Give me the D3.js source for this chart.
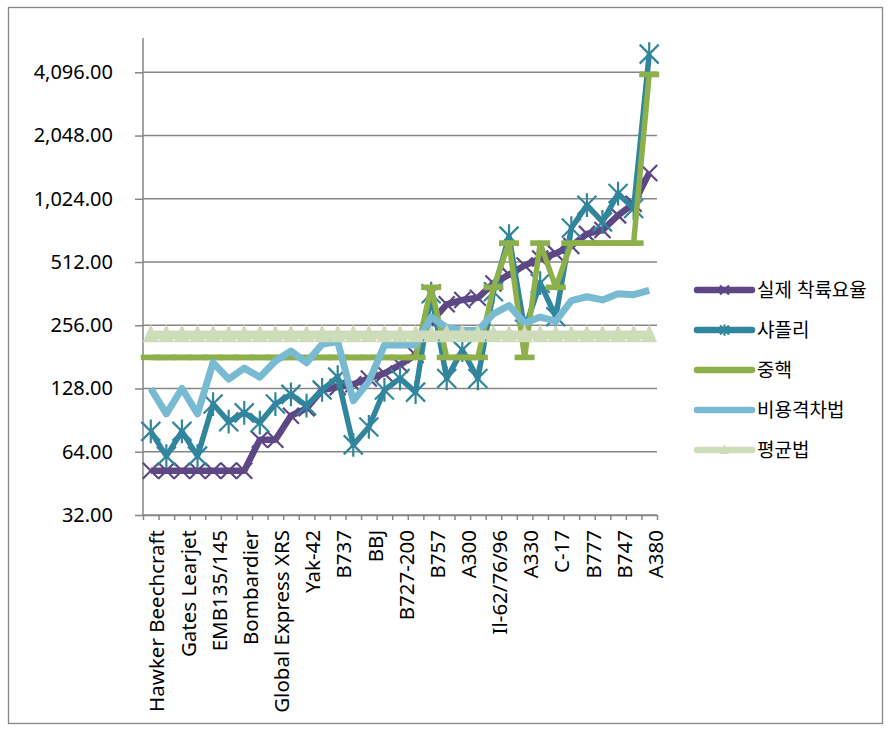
<!DOCTYPE html>
<html lang="ko">
<head>
  <meta charset="UTF-8">
  <title>착륙요율 비교</title>
  <style>
    html, body { margin: 0; background: #fff; overflow: hidden; }
    text { font-family: "Noto Sans", "Noto Sans CJK KR", sans-serif; fill: #000; }
  </style>
</head>
<body>
  <div id="chart"></div>
  <script src="https://cdn.jsdelivr.net/npm/d3@7"></script>
  <script>
    // 33 categories, only every other one is labelled on the axis
    const labels = ['Hawker Beechcraft', 'Gates Learjet', 'EMB135/145', 'Bombardier',
      'Global Express XRS', 'Yak-42', 'B737', 'BBJ', 'B727-200', 'B757', 'A300',
      'Il-62/76/96', 'A330', 'C-17', 'B777', 'B747', 'A380']
    const categories = d3.range(33).map(i => i % 2 === 0 ? labels[i / 2] : '')

    const actual = [52, 52, 52, 52, 52, 52, 52, 73, 73, 95, 103, 126, 130, 134, 143, 151, 166,
      185, 266, 322, 338, 346, 405, 446, 493, 532, 563, 610, 697, 727, 854, 970, 1357]
    const shapley = [80, 61, 80, 61, 108, 89, 98, 88, 108, 120, 106, 126, 145, 69, 84, 126, 143,
      123, 362, 143, 195, 143, 370, 680, 245, 406, 281, 743, 954, 795, 1084, 921, 5000]
    const nucleolus = [180, 180, 180, 180, 180, 180, 180, 180, 180, 180, 180, 180, 180, 180, 180,
      180, 180, 180, 388, 180, 180, 180, 388, 630, 180, 630, 388, 630, 630, 630, 630, 630, 4000]
    const costGap = [128, 97, 128, 97, 170, 142, 160, 145, 173, 193, 170, 208, 214, 112, 138, 206,
      206, 206, 280, 250, 242, 242, 290, 318, 262, 280, 268, 335, 350, 338, 362, 358, 375]
    const average = d3.range(33).map(() => 230)

    const yTicks = [32, 64, 128, 256, 512, 1024, 2048, 4096]

    const series = [
      { name: '실제 착륙요율', values: actual, color: '#5d4885', width: 6.5, marker: 'x' },
      { name: '샤플리', values: shapley, color: '#31859c', width: 5.5, marker: 'star' },
      { name: '중핵', values: nucleolus, color: '#8db04b', width: 5.5, marker: 'dash' },
      { name: '비용격차법', values: costGap, color: '#77bad2', width: 7, marker: 'none' },
      { name: '평균법', values: average, color: '#cfdcba', width: 9, marker: 'triangle' }
    ]

    const W = 891, H = 731
    const plot = { left: 143, right: 657, top: 38, bottom: 515 }

    const svg = d3.select('#chart').append('svg')
      .attr('width', W).attr('height', H)

    svg.append('rect')
      .attr('x', 8.5).attr('y', 7.5)
      .attr('width', 874).attr('height', 716)
      .attr('fill', '#fff').attr('stroke', '#868686').attr('stroke-width', 1.3)

    const x = d3.scaleLinear().domain([0, categories.length]).range([plot.left, plot.right])
    const y = d3.scaleLog().base(2).domain([32, 4096]).range([plot.bottom, 72.3])
    const cx = i => x(i + 0.5)

    // gridlines
    svg.append('g').selectAll('line')
      .data(yTicks)
      .join('line')
      .attr('x1', plot.left).attr('x2', plot.right)
      .attr('y1', d => y(d)).attr('y2', d => y(d))
      .attr('stroke', '#868686').attr('stroke-width', 1.5)

    // y axis
    const yAxis = svg.append('g')
      .attr('transform', `translate(${plot.left},0)`)
      .call(d3.axisLeft(y).tickValues(yTicks).tickFormat(d3.format(',.2f')).tickSize(8).tickPadding(22))
    yAxis.select('.domain').remove()
    yAxis.selectAll('.tick line').attr('stroke', '#868686').attr('stroke-width', 1.5)
    yAxis.selectAll('.tick text').attr('font-size', 20).attr('fill', '#000')
      .style('font-family', '"Noto Sans", sans-serif')
    yAxis.append('line')
      .attr('x1', 0).attr('x2', 0).attr('y1', plot.top).attr('y2', plot.bottom)
      .attr('stroke', '#868686').attr('stroke-width', 1.5)

    // x axis
    const xAxis = svg.append('g')
      .attr('transform', `translate(0,${plot.bottom})`)
      .call(d3.axisBottom(x).tickValues(d3.range(categories.length + 1)).tickFormat('').tickSize(5).tickSizeOuter(0))
    xAxis.select('.domain').attr('stroke', '#868686').attr('stroke-width', 1.5)
    xAxis.selectAll('.tick line').attr('stroke', '#868686').attr('stroke-width', 1.5)

    svg.append('g').selectAll('text')
      .data(categories.map((c, i) => ({ c, i })).filter(d => d.c))
      .join('text')
      .attr('transform', d => `translate(${cx(d.i) + 6.5},${plot.bottom + 15}) rotate(-90)`)
      .attr('text-anchor', 'end')
      .attr('dy', '0.35em')
      .attr('font-size', 20.5)
      .text(d => d.c)

    const line = d3.line().x((d, i) => cx(i)).y(d => y(d))

    function drawMarker(g, type, color, s) {
      if (type === 'x') {
        g.append('path')
          .attr('d', `M${-s},${-s}L${s},${s}M${-s},${s}L${s},${-s}`)
          .attr('stroke', color).attr('stroke-width', 2.2).attr('fill', 'none')
      } else if (type === 'star') {
        g.append('path')
          .attr('d', `M${-s},${-s}L${s},${s}M${-s},${s}L${s},${-s}M0,${-s * 1.25}L0,${s * 1.25}`)
          .attr('stroke', color).attr('stroke-width', 2.2).attr('fill', 'none')
      } else if (type === 'dash') {
        g.append('rect')
          .attr('x', -s).attr('y', -2.8).attr('width', 2 * s).attr('height', 5.6)
          .attr('fill', color)
      } else if (type === 'triangle') {
        g.append('path')
          .attr('d', `M0,${-s * 1.35}L${s},${s * 0.9}L${-s},${s * 0.9}Z`)
          .attr('fill', color)
      }
    }

    const markerSize = { x: 8, star: 9.5, dash: 10, triangle: 8 }

    series.forEach(s => {
      const g = svg.append('g')
      g.append('path')
        .datum(s.values)
        .attr('d', line)
        .attr('fill', 'none')
        .attr('stroke', s.color)
        .attr('stroke-width', s.width)
        .attr('stroke-linejoin', 'round')
      if (s.marker !== 'none') {
        s.values.forEach((v, i) => {
          const m = g.append('g').attr('transform', `translate(${cx(i)},${y(v)})`)
          drawMarker(m, s.marker, s.color, markerSize[s.marker])
        })
      }
    })

    // legend
    const legend = svg.append('g').attr('transform', 'translate(697,290)')
    series.forEach((s, i) => {
      const g = legend.append('g').attr('transform', `translate(0,${i * 40})`)
      g.append('line')
        .attr('x1', 0).attr('x2', 55)
        .attr('stroke', s.color).attr('stroke-width', 6.5).attr('stroke-linecap', 'round')
      if (s.marker === 'x' || s.marker === 'star' || s.marker === 'triangle') {
        const m = g.append('g').attr('transform', 'translate(27.5,0)')
        drawMarker(m, s.marker, s.color, 4.5)
      }
      g.append('text')
        .attr('x', 60).attr('dy', '0.35em')
        .attr('font-size', 19)
        .text(s.name)
    })
  </script>
</body>
</html>
